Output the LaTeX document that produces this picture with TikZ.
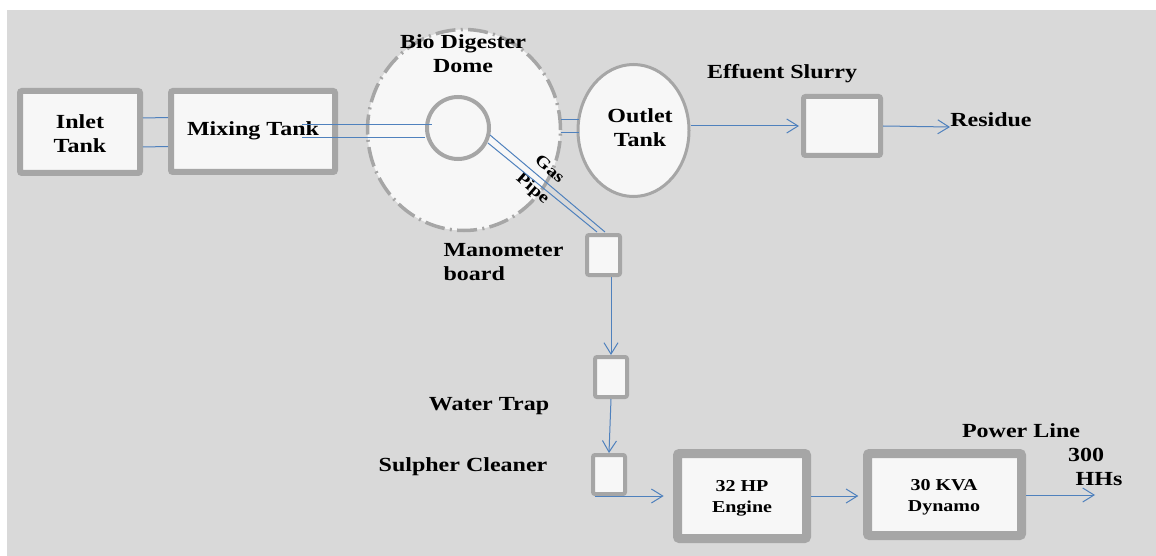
\documentclass[tikz,border=0pt]{standalone}
\usepackage{fontspec}
\setmainfont{Liberation Serif}[FakeStretch=1.2]
\usetikzlibrary{shapes.geometric,arrows.meta,calc}
\definecolor{bg}{RGB}{217,217,217}
\definecolor{boxfill}{RGB}{247,247,247}
\definecolor{boxgray}{RGB}{166,166,166}
\definecolor{pipe}{RGB}{79,129,189}
\tikzset{
  tbox/.style={draw=boxgray, fill=boxfill, rounded corners=1.5pt, inner sep=0pt, line width=#1*0.75pt},
  lbl/.style={font=\fontsize{15}{18}\selectfont\bfseries, text=black, align=center, inner sep=0pt},
  slbl/.style={font=\fontsize{12.5}{16}\selectfont\bfseries, text=black, align=center, inner sep=0pt},
  conn/.style={draw=pipe, line width=0.75pt},
  arr/.style={conn, -{Straight Barb[length=8.5pt,width=10.5pt]}}
}
\begin{document}
\begin{tikzpicture}[x=0.75pt,y=-0.75pt]
\useasboundingbox (0,0) rectangle (1156,556);
\fill[white] (0,0) rectangle (1156,556);
\fill[bg] (7,10) rectangle (1156,556);
% boxes
\node[tbox=6, minimum width=120*0.75pt, minimum height=82*0.75pt] (inlet) at (80,132) {};
\node[tbox=6, minimum width=164*0.75pt, minimum height=81*0.75pt] (mix) at (253,131.5) {};
\node[draw=boxgray, fill=boxfill, line width=3.5*0.75pt, dash pattern=on 15pt off 4pt on 1.5pt off 4pt, ellipse, inner sep=0pt, minimum width=193*0.75pt, minimum height=201*0.75pt] (dome) at (464,130) {};
\node[draw=boxgray, fill=boxfill, line width=4*0.75pt, circle, inner sep=0pt, minimum size=62*0.75pt] (inner) at (458,128) {};
\node[draw=boxgray, fill=boxfill, line width=3*0.75pt, ellipse, inner sep=0pt, minimum width=111*0.75pt, minimum height=132*0.75pt] (outlet) at (633.5,130.5) {};
\node[tbox=5, minimum width=77*0.75pt, minimum height=59*0.75pt] (eff) at (842,126) {};
\node[tbox=4, minimum width=33*0.75pt, minimum height=40*0.75pt] (mano) at (603.5,255) {};
\node[tbox=4, minimum width=32*0.75pt, minimum height=40*0.75pt] (wt) at (611,377) {};
\node[tbox=4, minimum width=32*0.75pt, minimum height=39*0.75pt] (sc) at (609,474.5) {};
\node[tbox=9, minimum width=129*0.75pt, minimum height=85*0.75pt] (engine) at (742,496) {};
\node[tbox=9, minimum width=154*0.75pt, minimum height=82*0.75pt] (dyn) at (944.5,494.5) {};
% texts
\node[lbl] (tinlet) at (80,134) {Inlet\\Tank};
\node[lbl] (tmix) at (253,131) {Mixing Tank};
\node[lbl] (tdome) at (463,54) {Bio Digester\\Dome};
\node[lbl] (tout) at (640,128) {Outlet\\Tank};
\node[lbl] (teff) at (782,74) {Effuent Slurry};
\node[lbl, anchor=base west] (res) at (950,127) {Residue};
\node[slbl, rotate=-41, font=\fontsize{12.5}{19}\selectfont\bfseries] (gaspipe) at (540.5,179.5) {Gas\\Pipe};
\node[lbl, align=left] (tmano) at (503.5,262) {Manometer\\board};
\node[lbl] (twt) at (489,406) {Water Trap};
\node[lbl] (tsc) at (463,467) {Sulpher Cleaner};
\node[slbl] (teng) at (742,498) {32 HP\\Engine};
\node[slbl] (tdyn) at (944,497) {30 KVA\\Dynamo};
\node[lbl] (tpl) at (1021,431) {Power Line};
\node[lbl] (t300) at (1086,455) {300};
\node[lbl] (thh) at (1099,479) {HHs};
% connectors
\draw[conn] ([yshift=14*0.75pt]inlet.east) -- ([yshift=14*0.75pt]mix.west);
\draw[conn] ([yshift=-15*0.75pt]inlet.east) -- ([yshift=-15*0.75pt]mix.west);
\draw[conn] ($(mix.center)+(49,-6.5)$) -- ($(inner.center)+(-26,-3)$);
\draw[conn] ($(mix.center)+(49,6.5)$) -- ($(inner.center)+(-33,10)$);
\draw[conn] ($(dome.center)+(97,-10)$) -- ($(outlet.center)+(-55,-10.5)$);
\draw[conn] ($(dome.center)+(97,3)$) -- ($(outlet.center)+(-55,2.5)$);
\draw[conn] ($(inner.center)+(32,7)$) -- ($(mano.north)+(1.5,-1)$);
\draw[conn] ($(inner.center)+(30,15)$) -- ($(mano.north)+(-6.5,-1)$);
\draw[arr, shorten >=1.5pt] (outlet.east |- eff.west) -- (eff.west);
\draw[arr] (eff.east) -- (res.base west);
\draw[arr] (mano.south -| wt.north) -- (wt.north);
\draw[arr] (wt.south) -- (sc.north);
\coordinate (scout) at ($(sc.south)+(-14,0)$);
\draw[arr, shorten >=7pt] (scout) -- (scout -| engine.west);
\draw[arr, shorten >=3.5pt] (engine.east) -- (engine.east -| dyn.west);
\coordinate (plout) at (1095,495);
\draw[arr] (dyn.east |- plout) -- (plout);
\end{tikzpicture}
\end{document}
